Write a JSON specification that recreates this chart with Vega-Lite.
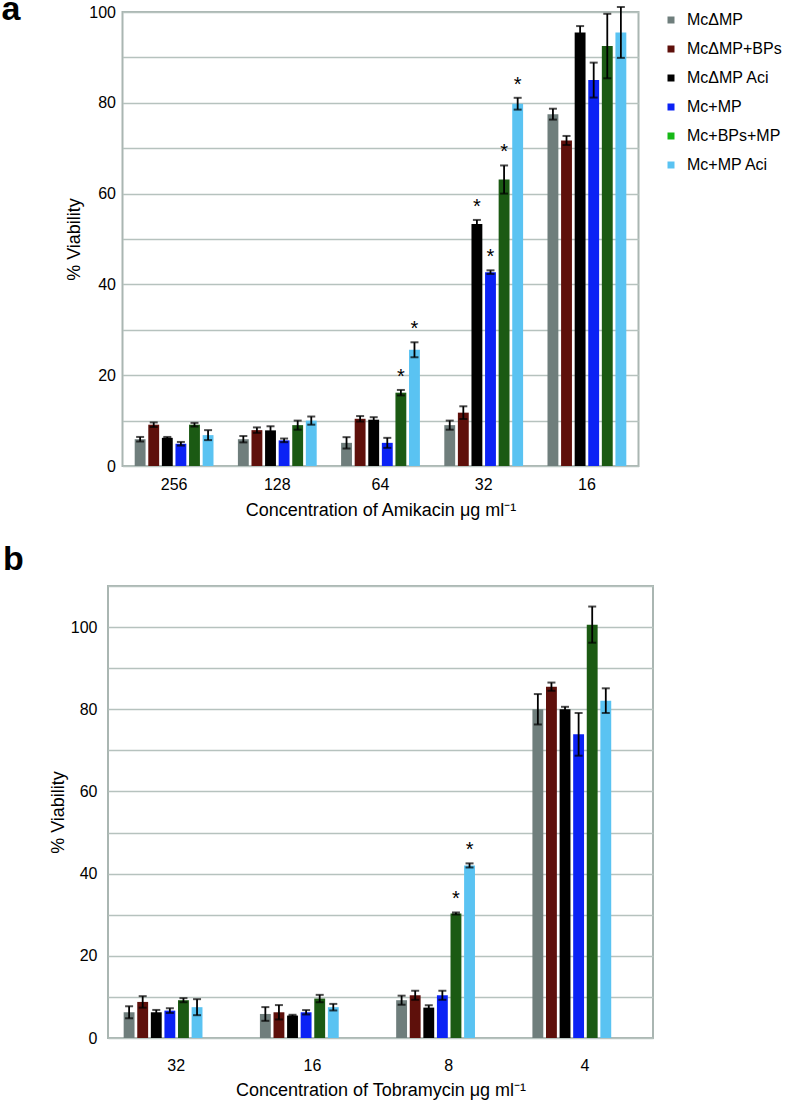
{
  "$schema": "https://vega.github.io/schema/vega-lite/v6.json",
  "background": "white",
  "padding": {"left": 0, "top": -8, "right": 0, "bottom": 0},
  "config": {
    "font": "Liberation Sans",
    "view": {"stroke": "#aab6b2", "strokeWidth": 2},
    "axis": {"labelColor": "black", "titleColor": "black", "labelFontSize": 16, "titleFontSize": 18, "titleFontWeight": "normal", "ticks": false, "domain": false, "gridColor": "#b6c2be", "gridWidth": 1.5},
    "legend": {"title": null, "symbolType": "square", "symbolSize": 49, "labelFontSize": 16, "rowPadding": 13, "labelOffset": 8, "symbolOpacity": 1, "symbolStrokeWidth": 0, "padding": 0, "offset": 9, "labelColor": "black"}
  },
  "datasets": {
    "amikacin": [
      {"conc": "256", "series": "McΔMP", "value": 5.9, "lo": 5.4, "hi": 6.4, "star": ""},
      {"conc": "256", "series": "McΔMP+BPs", "value": 9.1, "lo": 8.6, "hi": 9.6, "star": ""},
      {"conc": "256", "series": "McΔMP Aci", "value": 6.2, "lo": 6.0, "hi": 6.4, "star": ""},
      {"conc": "256", "series": "Mc+MP", "value": 4.9, "lo": 4.5, "hi": 5.3, "star": ""},
      {"conc": "256", "series": "Mc+BPs+MP", "value": 9.1, "lo": 8.7, "hi": 9.5, "star": ""},
      {"conc": "256", "series": "Mc+MP Aci", "value": 6.8, "lo": 5.7, "hi": 7.9, "star": ""},
      {"conc": "128", "series": "McΔMP", "value": 5.9, "lo": 5.2, "hi": 6.6, "star": ""},
      {"conc": "128", "series": "McΔMP+BPs", "value": 7.9, "lo": 7.3, "hi": 8.5, "star": ""},
      {"conc": "128", "series": "McΔMP Aci", "value": 7.85, "lo": 6.95, "hi": 8.75, "star": ""},
      {"conc": "128", "series": "Mc+MP", "value": 5.65, "lo": 5.25, "hi": 6.05, "star": ""},
      {"conc": "128", "series": "Mc+BPs+MP", "value": 9.0, "lo": 8.0, "hi": 10.0, "star": ""},
      {"conc": "128", "series": "Mc+MP Aci", "value": 10.0, "lo": 9.1, "hi": 10.9, "star": ""},
      {"conc": "64", "series": "McΔMP", "value": 5.1, "lo": 3.85, "hi": 6.35, "star": ""},
      {"conc": "64", "series": "McΔMP+BPs", "value": 10.4, "lo": 9.8, "hi": 11.0, "star": ""},
      {"conc": "64", "series": "McΔMP Aci", "value": 10.2, "lo": 9.65, "hi": 10.75, "star": ""},
      {"conc": "64", "series": "Mc+MP", "value": 5.1, "lo": 4.0, "hi": 6.2, "star": ""},
      {"conc": "64", "series": "Mc+BPs+MP", "value": 16.15, "lo": 15.55, "hi": 16.75, "star": "*"},
      {"conc": "64", "series": "Mc+MP Aci", "value": 25.6, "lo": 23.95, "hi": 27.25, "star": "*"},
      {"conc": "32", "series": "McΔMP", "value": 9.0, "lo": 8.0, "hi": 10.0, "star": ""},
      {"conc": "32", "series": "McΔMP+BPs", "value": 11.75, "lo": 10.35, "hi": 13.15, "star": ""},
      {"conc": "32", "series": "McΔMP Aci", "value": 53.3, "lo": 52.4, "hi": 54.2, "star": "*"},
      {"conc": "32", "series": "Mc+MP", "value": 42.7, "lo": 42.3, "hi": 43.1, "star": "*"},
      {"conc": "32", "series": "Mc+BPs+MP", "value": 63.1, "lo": 60.0, "hi": 66.2, "star": "*"},
      {"conc": "32", "series": "Mc+MP Aci", "value": 79.8, "lo": 78.5, "hi": 81.1, "star": "*"},
      {"conc": "16", "series": "McΔMP", "value": 77.5, "lo": 76.3, "hi": 78.7, "star": ""},
      {"conc": "16", "series": "McΔMP+BPs", "value": 71.7, "lo": 70.7, "hi": 72.7, "star": ""},
      {"conc": "16", "series": "McΔMP Aci", "value": 95.5, "lo": 94.1, "hi": 96.9, "star": ""},
      {"conc": "16", "series": "Mc+MP", "value": 85.0, "lo": 81.15, "hi": 88.85, "star": ""},
      {"conc": "16", "series": "Mc+BPs+MP", "value": 92.5, "lo": 85.4, "hi": 99.6, "star": ""},
      {"conc": "16", "series": "Mc+MP Aci", "value": 95.5, "lo": 89.9, "hi": 101.1, "star": ""}
    ],
    "tobramycin": [
      {"conc": "32", "series": "McΔMP", "value": 6.26, "lo": 4.8, "hi": 7.72, "star": ""},
      {"conc": "32", "series": "McΔMP+BPs", "value": 8.78, "lo": 7.38, "hi": 10.18, "star": ""},
      {"conc": "32", "series": "McΔMP Aci", "value": 6.26, "lo": 5.69, "hi": 6.83, "star": ""},
      {"conc": "32", "series": "Mc+MP", "value": 6.67, "lo": 6.1, "hi": 7.24, "star": ""},
      {"conc": "32", "series": "Mc+BPs+MP", "value": 9.2, "lo": 8.7, "hi": 9.7, "star": ""},
      {"conc": "32", "series": "Mc+MP Aci", "value": 7.5, "lo": 5.55, "hi": 9.45, "star": ""},
      {"conc": "16", "series": "McΔMP", "value": 5.85, "lo": 4.18, "hi": 7.52, "star": ""},
      {"conc": "16", "series": "McΔMP+BPs", "value": 6.26, "lo": 4.51, "hi": 8.01, "star": ""},
      {"conc": "16", "series": "McΔMP Aci", "value": 5.45, "lo": 5.25, "hi": 5.65, "star": ""},
      {"conc": "16", "series": "Mc+MP", "value": 6.26, "lo": 5.73, "hi": 6.79, "star": ""},
      {"conc": "16", "series": "Mc+BPs+MP", "value": 9.6, "lo": 8.7, "hi": 10.5, "star": ""},
      {"conc": "16", "series": "Mc+MP Aci", "value": 7.5, "lo": 6.7, "hi": 8.3, "star": ""},
      {"conc": "8", "series": "McΔMP", "value": 9.2, "lo": 8.1, "hi": 10.3, "star": ""},
      {"conc": "8", "series": "McΔMP+BPs", "value": 10.4, "lo": 9.3, "hi": 11.5, "star": ""},
      {"conc": "8", "series": "McΔMP Aci", "value": 7.4, "lo": 6.83, "hi": 7.97, "star": ""},
      {"conc": "8", "series": "Mc+MP", "value": 10.4, "lo": 9.3, "hi": 11.5, "star": ""},
      {"conc": "8", "series": "Mc+BPs+MP", "value": 30.3, "lo": 30.05, "hi": 30.55, "star": "*"},
      {"conc": "8", "series": "Mc+MP Aci", "value": 42.0, "lo": 41.5, "hi": 42.5, "star": "*"},
      {"conc": "4", "series": "McΔMP", "value": 80.0, "lo": 76.3, "hi": 83.7, "star": ""},
      {"conc": "4", "series": "McΔMP+BPs", "value": 85.5, "lo": 84.5, "hi": 86.5, "star": ""},
      {"conc": "4", "series": "McΔMP Aci", "value": 80.0, "lo": 79.4, "hi": 80.6, "star": ""},
      {"conc": "4", "series": "Mc+MP", "value": 73.9, "lo": 68.7, "hi": 79.1, "star": ""},
      {"conc": "4", "series": "Mc+BPs+MP", "value": 100.6, "lo": 96.2, "hi": 105.0, "star": ""},
      {"conc": "4", "series": "Mc+MP Aci", "value": 82.1, "lo": 79.1, "hi": 85.1, "star": ""}
    ]
  },
  "spacing": 22,
  "center": true,
  "vconcat": [
    {
      "width": 516,
      "height": 454,
      "title": {"text": "a                                                                   ", "anchor": "start", "frame": "group", "fontSize": 34, "fontWeight": "bold", "dx": -121, "dy": 50, "offset": 0, "baseline": "alphabetic", "color": "black"},
      "data": {"name": "amikacin"},
      "encoding": {
        "x": {"field": "conc", "type": "nominal", "sort": ["256", "128", "64", "32", "16"], "scale": {"paddingInner": 0.21, "paddingOuter": 0.105}, "axis": {"labelAngle": 0, "labelPadding": 10, "titlePadding": 9, "title": "Concentration of Amikacin μg ml⁻¹"}},
        "xOffset": {"field": "series", "type": "nominal", "sort": ["McΔMP", "McΔMP+BPs", "McΔMP Aci", "Mc+MP", "Mc+BPs+MP", "Mc+MP Aci"], "scale": {"paddingInner": 0.2, "paddingOuter": 0.1}}
      },
      "layer": [
        {
          "mark": {"type": "point", "shape": "square", "filled": true, "opacity": 0},
          "encoding": {
            "y": {"field": "value", "type": "quantitative", "title": "% Viability", "scale": {"domain": [0, 100], "nice": false}, "axis": {"values": [0, 10, 20, 30, 40, 50, 60, 70, 80, 90, 100], "labelExpr": "datum.value % 20 === 0 ? datum.label : ''", "labelPadding": 7, "titlePadding": 5, "grid": true}},
            "fill": {"field": "series", "type": "nominal", "sort": ["McΔMP", "McΔMP+BPs", "McΔMP Aci", "Mc+MP", "Mc+BPs+MP", "Mc+MP Aci"], "scale": {"domain": ["McΔMP", "McΔMP+BPs", "McΔMP Aci", "Mc+MP", "Mc+BPs+MP", "Mc+MP Aci"], "range": ["#6f7e7c", "#5e100b", "#000000", "#0b22f5", "#16b816", "#5ac3f2"]}, "legend": {}}
          }
        },
        {
          "mark": {"type": "bar"},
          "encoding": {
            "y": {"field": "value", "type": "quantitative", "title": "% Viability"},
            "color": {"field": "series", "type": "nominal", "scale": {"domain": ["McΔMP", "McΔMP+BPs", "McΔMP Aci", "Mc+MP", "Mc+BPs+MP", "Mc+MP Aci"], "range": ["#6f7e7c", "#5e100b", "#000000", "#0b22f5", "#1b5a13", "#5ac3f2"]}, "legend": null}
          }
        },
        {
          "mark": {"type": "rule", "color": "black", "strokeWidth": 1.8},
          "encoding": {"y": {"field": "lo", "type": "quantitative", "title": "% Viability"}, "y2": {"field": "hi"}}
        },
        {
          "mark": {"type": "tick", "color": "black", "thickness": 2, "size": 8},
          "encoding": {"y": {"field": "hi", "type": "quantitative", "title": "% Viability"}}
        },
        {
          "mark": {"type": "tick", "color": "black", "thickness": 2, "size": 8},
          "encoding": {"y": {"field": "lo", "type": "quantitative", "title": "% Viability"}}
        },
        {
          "transform": [{"filter": "datum.star === '*'"}],
          "mark": {"type": "text", "fontSize": 20, "baseline": "alphabetic", "align": "center", "dy": -7, "color": "black"},
          "encoding": {"y": {"field": "hi", "type": "quantitative", "title": "% Viability"}, "text": {"field": "star"}}
        }
      ]
    },
    {
      "width": 545,
      "height": 452,
      "title": {"text": "b", "anchor": "start", "frame": "group", "fontSize": 34, "fontWeight": "bold", "dx": -105, "dy": 18, "offset": 0, "baseline": "alphabetic", "color": "black"},
      "data": {"name": "tobramycin"},
      "encoding": {
        "x": {"field": "conc", "type": "nominal", "sort": ["32", "16", "8", "4"], "scale": {"paddingInner": 0.21, "paddingOuter": 0.105}, "axis": {"labelAngle": 0, "labelPadding": 19, "titlePadding": 8, "title": "Concentration of Tobramycin μg ml⁻¹"}},
        "xOffset": {"field": "series", "type": "nominal", "sort": ["McΔMP", "McΔMP+BPs", "McΔMP Aci", "Mc+MP", "Mc+BPs+MP", "Mc+MP Aci"], "scale": {"paddingInner": 0.19, "paddingOuter": 0.1}}
      },
      "layer": [
        {
          "mark": {"type": "bar"},
          "encoding": {
            "y": {"field": "value", "type": "quantitative", "title": "% Viability", "scale": {"domain": [0, 110], "nice": false}, "axis": {"values": [0, 10, 20, 30, 40, 50, 60, 70, 80, 90, 100, 110], "labelExpr": "datum.value % 20 === 0 ? datum.label : ''", "labelPadding": 11, "titlePadding": 3, "grid": true}},
            "color": {"field": "series", "type": "nominal", "scale": {"domain": ["McΔMP", "McΔMP+BPs", "McΔMP Aci", "Mc+MP", "Mc+BPs+MP", "Mc+MP Aci"], "range": ["#6f7e7c", "#5e100b", "#000000", "#0b22f5", "#1b5a13", "#5ac3f2"]}, "legend": null}
          }
        },
        {
          "mark": {"type": "rule", "color": "black", "strokeWidth": 1.8},
          "encoding": {"y": {"field": "lo", "type": "quantitative", "title": "% Viability"}, "y2": {"field": "hi"}}
        },
        {
          "mark": {"type": "tick", "color": "black", "thickness": 2, "size": 8},
          "encoding": {"y": {"field": "hi", "type": "quantitative", "title": "% Viability"}}
        },
        {
          "mark": {"type": "tick", "color": "black", "thickness": 2, "size": 8},
          "encoding": {"y": {"field": "lo", "type": "quantitative", "title": "% Viability"}}
        },
        {
          "transform": [{"filter": "datum.star === '*'"}],
          "mark": {"type": "text", "fontSize": 20, "baseline": "alphabetic", "align": "center", "dy": -7, "color": "black"},
          "encoding": {"y": {"field": "hi", "type": "quantitative", "title": "% Viability"}, "text": {"field": "star"}}
        }
      ]
    }
  ]
}
